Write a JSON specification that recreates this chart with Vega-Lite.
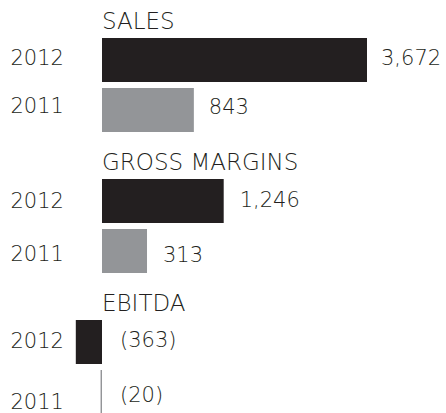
{
  "$schema": "https://vega.github.io/schema/vega-lite/v6.json",
  "padding": {"left": 10, "top": 11, "right": 0, "bottom": 0},
  "background": "white",
  "data": {"values": [
    {"group": "SALES", "year": "2012", "value": 3672},
    {"group": "SALES", "year": "2011", "value": 843},
    {"group": "GROSS MARGINS", "year": "2012", "value": 1246},
    {"group": "GROSS MARGINS", "year": "2011", "value": 313},
    {"group": "EBITDA", "year": "2012", "value": -363},
    {"group": "EBITDA", "year": "2011", "value": -20}
  ]},
  "config": {
    "view": {"stroke": null},
    "font": "DejaVu Sans",
    "concat": {"spacing": 17},
    "title": {"anchor": "start", "frame": "group", "fontSize": 23, "fontWeight": 300, "color": "#231f20", "baseline": "alphabetic", "offset": 1, "font": "DejaVu Sans"},
    "axisY": {"title": null, "domain": false, "ticks": false, "tickSize": 0, "grid": false, "labelAlign": "left", "labelPadding": 92, "labelFontSize": 21, "labelFontWeight": 300, "labelColor": "#231f20", "labelFont": "DejaVu Sans"},
    "text": {"font": "DejaVu Sans", "fontSize": 21, "fontWeight": 300, "color": "#231f20", "align": "left", "baseline": "middle"}
  },
  "resolve": {"scale": {"x": "independent", "y": "independent", "color": "independent"}},
  "vconcat": [
    {
      "title": "SALES",
      "width": 265, "height": 100,
      "transform": [{"filter": "datum.group === 'SALES'"}],
      "encoding": {
        "y": {"field": "year", "type": "nominal", "scale": {"domain": ["2012", "2011"], "paddingInner": 0.12, "paddingOuter": 0.06},
              "axis": {"labelOffset": {"condition": {"test": "datum.value === '2011'", "value": -3}, "value": -1}}},
        "x": {"field": "value", "type": "quantitative", "scale": {"type": "pow", "exponent": 0.72, "domain": [0, 3672], "nice": false}, "axis": null}
      },
      "layer": [
        {"mark": "bar", "encoding": {"color": {"field": "year", "type": "nominal", "scale": {"domain": ["2012", "2011"], "range": ["#231f20", "#939598"]}, "legend": null}}},
        {"transform": [{"filter": "datum.year === '2012'"}], "mark": {"type": "text", "dx": 14, "dy": -1}, "encoding": {"text": {"field": "value", "type": "quantitative", "format": "(,"}}},
        {"transform": [{"filter": "datum.year === '2011'"}], "mark": {"type": "text", "dx": 15, "dy": -2}, "encoding": {"text": {"field": "value", "type": "quantitative", "format": "(,"}}}
      ]
    },
    {
      "title": "GROSS MARGINS",
      "width": 265, "height": 100,
      "transform": [{"filter": "datum.group === 'GROSS MARGINS'"}],
      "encoding": {
        "y": {"field": "year", "type": "nominal", "scale": {"domain": ["2012", "2011"], "paddingInner": 0.12, "paddingOuter": 0.06},
              "axis": {"labelOffset": {"condition": {"test": "datum.value === '2011'", "value": 4}, "value": 1}}},
        "x": {"field": "value", "type": "quantitative", "scale": {"type": "pow", "exponent": 0.72, "domain": [0, 3672], "nice": false}, "axis": null}
      },
      "layer": [
        {"mark": "bar", "encoding": {"color": {"field": "year", "type": "nominal", "scale": {"domain": ["2012", "2011"], "range": ["#231f20", "#939598"]}, "legend": null}}},
        {"transform": [{"filter": "datum.year === '2012'"}], "mark": {"type": "text", "dx": 16, "dy": 0}, "encoding": {"text": {"field": "value", "type": "quantitative", "format": "(,"}}},
        {"transform": [{"filter": "datum.year === '2011'"}], "mark": {"type": "text", "dx": 16, "dy": 5}, "encoding": {"text": {"field": "value", "type": "quantitative", "format": "(,"}}}
      ]
    },
    {
      "title": "EBITDA",
      "width": 265, "height": 100,
      "transform": [{"filter": "datum.group === 'EBITDA'"}],
      "encoding": {
        "y": {"field": "year", "type": "nominal", "scale": {"domain": ["2012", "2011"], "paddingInner": 0.12, "paddingOuter": 0.06},
              "axis": {"labelOffset": {"condition": {"test": "datum.value === '2011'", "value": 11}, "value": 0}}}
      },
      "layer": [
        {"mark": "bar", "encoding": {
          "x": {"field": "value", "type": "quantitative", "scale": {"type": "linear", "domain": [0, 3672], "nice": false, "zero": true}, "axis": null},
          "color": {"field": "year", "type": "nominal", "scale": {"domain": ["2012", "2011"], "range": ["#231f20", "#939598"]}, "legend": null}}},
        {"transform": [{"filter": "datum.year === '2012'"}], "mark": {"type": "text", "dx": 18, "dy": -1}, "encoding": {"x": {"datum": 0, "type": "quantitative"}, "text": {"field": "value", "type": "quantitative", "format": "(,"}}},
        {"transform": [{"filter": "datum.year === '2011'"}], "mark": {"type": "text", "dx": 18, "dy": 4}, "encoding": {"x": {"datum": 0, "type": "quantitative"}, "text": {"field": "value", "type": "quantitative", "format": "(,"}}}
      ]
    }
  ]
}
